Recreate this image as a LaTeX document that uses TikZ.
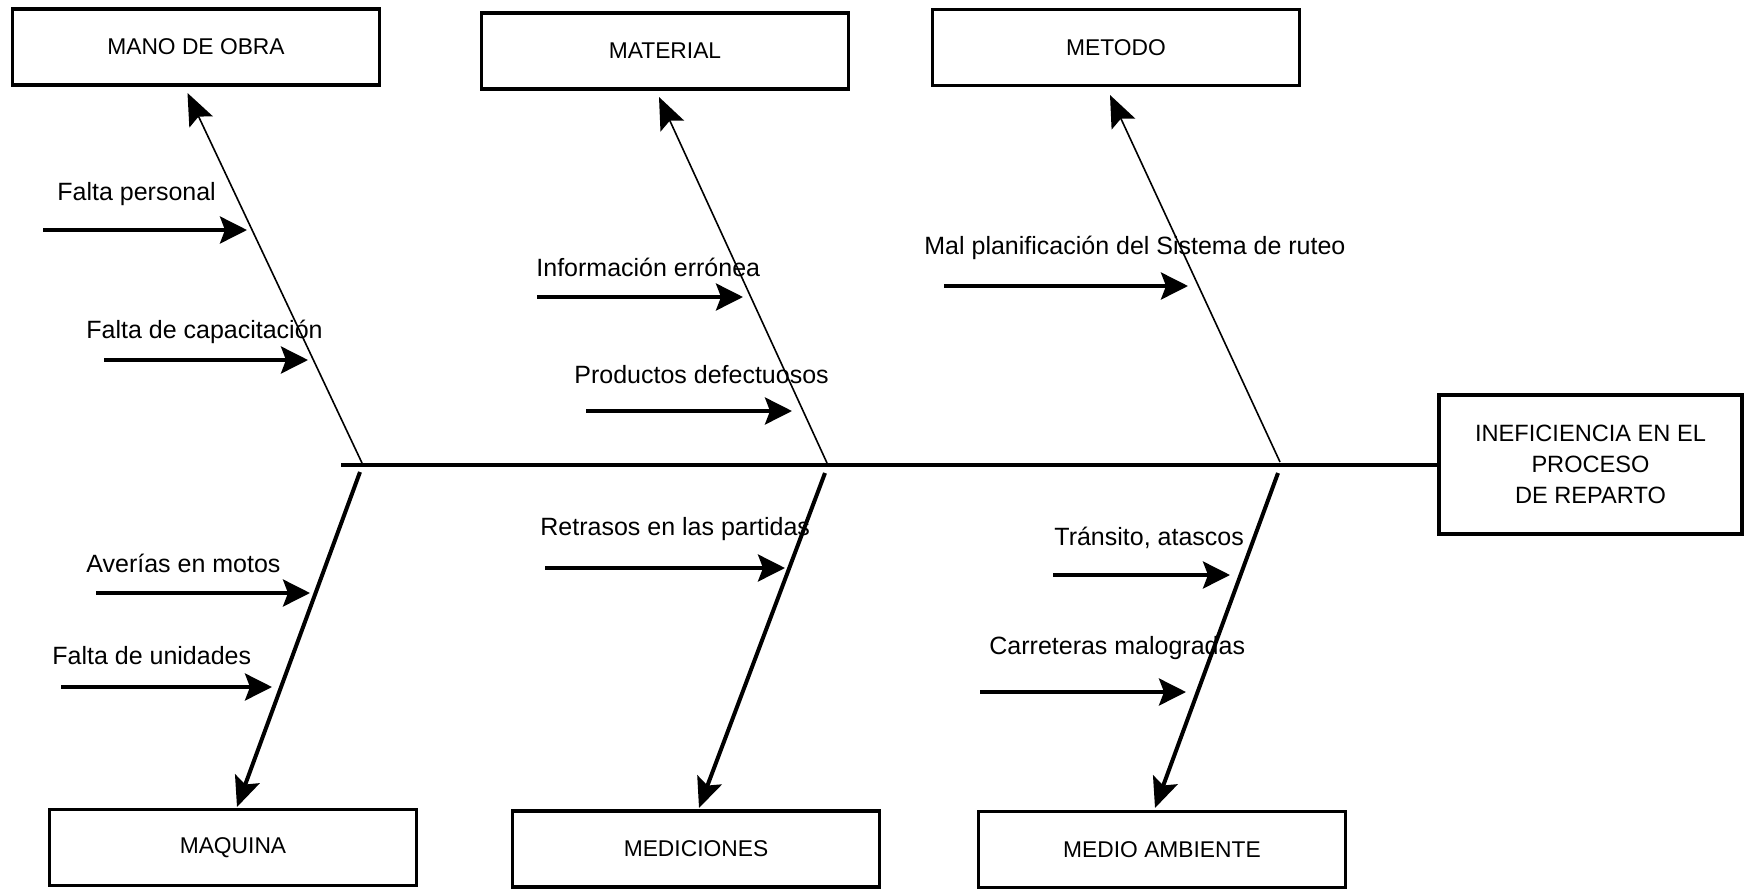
\documentclass[tikz,border=0pt]{standalone}
\usepackage{fontspec}
\setmainfont{Liberation Sans}
\usetikzlibrary{arrows.meta}
\begin{document}
\begin{tikzpicture}[x=0.5pt,y=-0.5pt,
  catbox/.style={draw,line width=1.9pt,minimum width=183.5pt,minimum height=38pt,inner sep=0pt,font=\fontsize{11.4}{13}\selectfont},
  effbox/.style={draw,line width=1.9pt,minimum width=151.5pt,minimum height=69.5pt,inner sep=0pt,align=center,font=\fontsize{11.8}{15.5}\selectfont},
  spine/.style={line width=1.6pt},
  upbone/.style={line width=0.8pt,-{Stealth[length=16pt,width=13pt,inset=3pt]}},
  lowbone/.style={line width=2pt,-{Stealth[length=15pt,width=13pt,inset=3pt]}},
  cause/.style={line width=1.8pt,-{Stealth[length=13.5pt,width=13.5pt,inset=2.5pt]}},
  clabel/.style={anchor=west,inner sep=0pt,font=\fontsize{12.5}{15}\selectfont}]
\useasboundingbox (0,0) rectangle (1747,889);
\fill[white] (0,0) rectangle (1747,889);

% category boxes
\node[catbox] (mano) at (196,47) {MANO DE OBRA};
\node[catbox] (material) at (665,51) {MATERIAL};
\node[catbox] (metodo) at (1116,47.5) {METODO};
\node[catbox] (maquina) at (233,847.5) {MAQUINA};
\node[catbox] (mediciones) at (696,849) {MEDICIONES};
\node[catbox] (medio) at (1162,849.5) {MEDIO AMBIENTE};
\node[effbox] (effect) at (1590.5,464.5) {INEFICIENCIA EN EL\\PROCESO\\DE REPARTO};

% spine
\coordinate (s0) at (341,465);
\draw[spine] (s0) -- (effect.west |- s0);

% bones
\coordinate (u1) at (362,463);  \coordinate (t1) at (187.5,93);
\coordinate (u2) at (827,463);  \coordinate (t2) at (659,97);
\coordinate (u3) at (1280,462); \coordinate (t3) at (1110,95);
\coordinate (l1) at (360,472);  \coordinate (b1) at (237,807);
\coordinate (l2) at (825,473);  \coordinate (b2) at (699,808);
\coordinate (l3) at (1278,473); \coordinate (b3) at (1155,808);
\draw[upbone] (u1) -- (t1);
\draw[upbone] (u2) -- (t2);
\draw[upbone] (u3) -- (t3);
\draw[lowbone] (l1) -- (b1);
\draw[lowbone] (l2) -- (b2);
\draw[lowbone] (l3) -- (b3);

% causes
\node[clabel] (c1) at (57,194) {Falta personal};
\coordinate (c1a) at (43,230); \coordinate (c1b) at (247,230);
\draw[cause] (c1a) -- (c1b);
\node[clabel] (c2) at (86,332) {Falta de capacitación};
\coordinate (c2a) at (104,360); \coordinate (c2b) at (308,360);
\draw[cause] (c2a) -- (c2b);
\node[clabel] (c3) at (536,267) {Información errónea};
\coordinate (c3a) at (537,297); \coordinate (c3b) at (743,297);
\draw[cause] (c3a) -- (c3b);
\node[clabel] (c4) at (574,375) {Productos defectuosos};
\coordinate (c4a) at (586,411); \coordinate (c4b) at (792,411);
\draw[cause] (c4a) -- (c4b);
\node[clabel] (c5) at (924,248) {Mal planificación del Sistema de ruteo};
\coordinate (c5a) at (944,286); \coordinate (c5b) at (1188,286);
\draw[cause] (c5a) -- (c5b);
\node[clabel] (c6) at (86,563) {Averías en motos};
\coordinate (c6a) at (96,593); \coordinate (c6b) at (310,593);
\draw[cause] (c6a) -- (c6b);
\node[clabel] (c7) at (52,656) {Falta de unidades};
\coordinate (c7a) at (61,687); \coordinate (c7b) at (272,687);
\draw[cause] (c7a) -- (c7b);
\node[clabel] (c8) at (540,529) {Retrasos en las partidas};
\coordinate (c8a) at (545,568); \coordinate (c8b) at (785,568);
\draw[cause] (c8a) -- (c8b);
\node[clabel] (c9) at (1054,538) {Tránsito, atascos};
\coordinate (c9a) at (1053,575); \coordinate (c9b) at (1230,575);
\draw[cause] (c9a) -- (c9b);
\node[clabel] (c10) at (989,648) {Carreteras malogradas};
\coordinate (c10a) at (980,692); \coordinate (c10b) at (1186,692);
\draw[cause] (c10a) -- (c10b);
\end{tikzpicture}
\end{document}
